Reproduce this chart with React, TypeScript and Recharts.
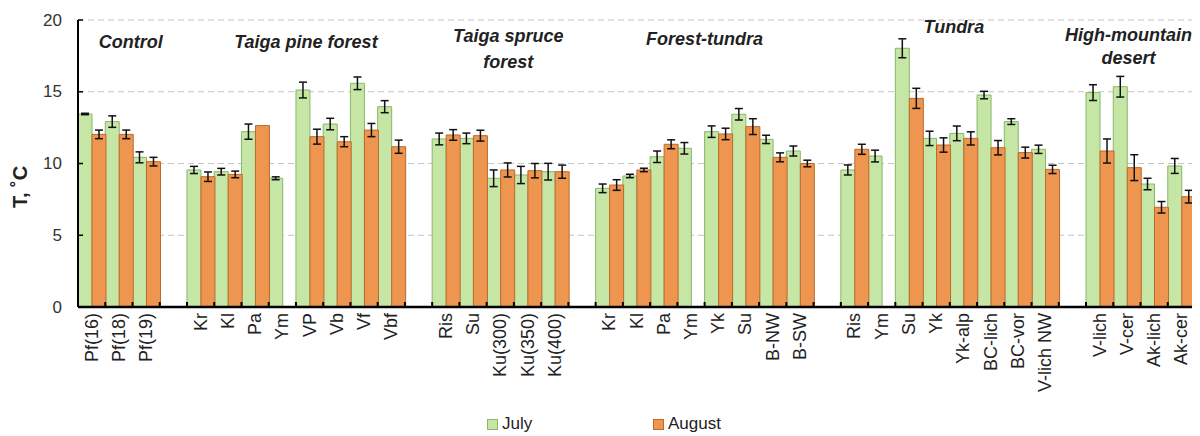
import React from 'react';
import { BarChart, Bar, XAxis, YAxis, CartesianGrid, ErrorBar, Legend, ReferenceArea } from 'recharts';

// ---------- data ----------
const siteLabels = [
  'Pf(16)', 'Pf(18)', 'Pf(19)', '',
  'Kr', 'Kl', 'Pa', 'Ym', 'VP', 'Vb', 'Vf', 'Vbf', '',
  'Ris', 'Su', 'Ku(300)', 'Ku(350)', 'Ku(400)', '',
  'Kr', 'Kl', 'Pa', 'Ym', 'Yk', 'Su', 'B-NW', 'B-SW', '',
  'Ris', 'Ym', 'Su', 'Yk', 'Yk-alp', 'BC-lich', 'BC-vor', 'V-lich NW', '',
  'V-lich', 'V-cer', 'Ak-lich', 'Ak-cer',
];

const julyT = [
  13.45, 12.92, 10.43, null,
  9.55, 9.43, 12.22, 8.97, 15.12, 12.75, 15.59, 13.96, null,
  11.71, 11.75, 8.97, 9.2, 9.43, null,
  8.27, 9.13, 10.47, 11.06, 12.22, 13.43, 11.68, 10.87, null,
  9.55, 10.52, 18.03, 11.75, 12.1, 14.77, 12.92, 10.99, null,
  14.94, 15.35, 8.57, 9.83,
];

const augustT = [
  12.03, 12.03, 10.13, null,
  9.08, 9.24, 12.64, null, 11.87, 11.52, 12.33, 11.17, null,
  11.99, 11.94, 9.55, 9.5, 9.43, null,
  8.5, 9.55, 11.34, null, 12.06, 12.57, 10.43, 10.0, null,
  10.99, null, 14.54, 11.29, 11.75, 11.1, 10.76, 9.59, null,
  10.87, 9.71, 6.95, 7.69,
];

const julyErr = [
  0.05, 0.4, 0.38, null,
  0.25, 0.23, 0.53, 0.1, 0.55, 0.4, 0.44, 0.42, null,
  0.41, 0.37, 0.58, 0.6, 0.58, null,
  0.3, 0.12, 0.4, 0.4, 0.4, 0.4, 0.29, 0.35, null,
  0.35, 0.41, 0.66, 0.5, 0.51, 0.26, 0.2, 0.29, null,
  0.55, 0.72, 0.4, 0.52,
];

const augustErr = [
  0.3, 0.3, 0.3, null,
  0.33, 0.23, null, null, 0.52, 0.35, 0.46, 0.46, null,
  0.37, 0.38, 0.49, 0.5, 0.46, null,
  0.37, 0.12, 0.31, null, 0.4, 0.55, 0.31, 0.23, null,
  0.35, null, 0.7, 0.5, 0.46, 0.5, 0.38, 0.29, null,
  0.84, 0.9, 0.4, 0.44,
];

const yTicks = [0, 5, 10, 15, 20];
const seriesNames = ['July', 'August'];
const yAxisTitle = 'T, ˚C';

const groupNames = [
  ['Control'],
  ['Taiga pine forest'],
  ['Taiga spruce', 'forest'],
  ['Forest-tundra'],
  ['Tundra'],
  ['High-mountain', 'desert'],
];
const groupStart = [0, 4, 13, 19, 28, 37];
const groupEnd = [2, 11, 17, 26, 35, 40];

// ---------- styling / layout ----------
const FONT = '"Liberation Sans", Arial, sans-serif';
const W = 1192;
const H = 428;
const MARGIN = { top: 12, right: 5, left: 0, bottom: 0 };
const Y_W = 70;
const X_H = 105;
const HALF_BAND = (W - MARGIN.left - MARGIN.right - Y_W) / siteLabels.length / 2;

const JULY_FILL = '#c6e6a6';
const JULY_STROKE = '#86b86a';
const AUG_FILL = '#ee9550';
const AUG_STROKE = '#bb6a2e';

const titleDx = [12, 10, 8, 0, 4, -12];
const titleY = [[34], [34], [28, 54], [31], [19], [27, 50]];
const legendLeft = [479, 645];

const data = siteLabels.map((label, i) => ({
  id: `s${i}`,
  label,
  july: julyT[i],
  august: augustT[i],
  julyErr: julyErr[i],
  augustErr: augustErr[i],
}));
const labelById: Record<string, string> = {};
data.forEach((d) => { labelById[d.id] = d.label; });

const XTick = (props: any) => {
  const { x, y, payload, index } = props;
  const label = labelById[payload.value] ?? '';
  const ty = y + 6;
  return (
    <g>
      <line x1={x - HALF_BAND} x2={x - HALF_BAND} y1={y} y2={y - 5} stroke="#000" strokeWidth={2} />
      {index === siteLabels.length - 1 && (
        <line x1={x + HALF_BAND} x2={x + HALF_BAND} y1={y} y2={y - 5} stroke="#000" strokeWidth={2} />
      )}
      <text
        x={x}
        y={ty}
        transform={`rotate(-90, ${x}, ${ty})`}
        textAnchor="end"
        dominantBaseline="central"
        fontSize={18}
        fontFamily={FONT}
        fill="#222"
      >
        {label}
      </text>
    </g>
  );
};

const YTick = (props: any) => {
  const { x, y, payload } = props;
  return (
    <g>
      <line x1={x} x2={x + 5} y1={y} y2={y} stroke="#000" strokeWidth={1.5} />
      <text x={x - 16} y={y} textAnchor="end" dominantBaseline="central" fontSize={17} fontFamily={FONT} fill="#333">
        {payload.value}
      </text>
    </g>
  );
};

const renderLegend = () => (
  <div style={{ position: 'relative', height: 24, fontFamily: FONT, fontSize: 17, color: '#222' }}>
    {seriesNames.map((n, i) => (
      <div
        key={n}
        style={{ position: 'absolute', left: legendLeft[i], top: 3, display: 'flex', alignItems: 'center', lineHeight: '18px' }}
      >
        <span
          style={{
            display: 'inline-block',
            width: 9,
            height: 9,
            background: i === 0 ? JULY_FILL : AUG_FILL,
            border: `1px solid ${i === 0 ? JULY_STROKE : AUG_STROKE}`,
            marginRight: 4,
          }}
        />
        {n}
      </div>
    ))}
  </div>
);

const makeTitle = (g: number) => (p: any) => {
  const vb = p.viewBox ?? p;
  const cx = vb.x + vb.width / 2 + titleDx[g];
  return (
    <g>
      {groupNames[g].map((line, k) => (
        <text
          key={k}
          x={cx}
          y={titleY[g][k]}
          textAnchor="middle"
          dominantBaseline="central"
          fontSize={18}
          fontWeight="bold"
          fontStyle="italic"
          fontFamily={FONT}
          fill="#222"
        >
          {line}
        </text>
      ))}
    </g>
  );
};

export default function App() {
  return (
    <BarChart width={W} height={H} data={data} margin={MARGIN} barCategoryGap={0} barGap={0}>
      <CartesianGrid vertical={false} stroke="#c4c4c4" strokeDasharray="6 4" />
      <XAxis
        dataKey="id"
        type="category"
        interval={0}
        height={X_H}
        tickSize={0}
        tickMargin={0}
        tickLine={false}
        axisLine={{ stroke: '#000', strokeWidth: 2.5 }}
        tick={<XTick />}
      />
      <YAxis
        domain={[0, 20]}
        ticks={yTicks}
        width={Y_W}
        tickSize={0}
        tickMargin={0}
        tickLine={false}
        axisLine={{ stroke: '#000', strokeWidth: 2 }}
        tick={<YTick />}
        label={(p: any) => {
          const vb = p.viewBox ?? { x: 0 };
          const lx = (vb.x ?? 0) + 12;
          const ly = 179;
          return (
            <text
              x={lx}
              y={ly}
              transform={`rotate(-90, ${lx}, ${ly})`}
              textAnchor="middle"
              dominantBaseline="central"
              fontSize={20}
              fontWeight="bold"
              fontFamily={FONT}
              fill="#222"
            >
              {yAxisTitle}
            </text>
          );
        }}
      />
      {groupNames.map((_, g) => (
        <ReferenceArea
          key={g}
          x1={`s${groupStart[g]}`}
          x2={`s${groupEnd[g]}`}
          fill="none"
          fillOpacity={0}
          stroke="none"
          ifOverflow="visible"
          label={makeTitle(g)}
        />
      ))}
      <Legend verticalAlign="bottom" content={renderLegend} />
      <Bar dataKey="july" name="July" fill={JULY_FILL} stroke={JULY_STROKE} strokeWidth={1} isAnimationActive={false}>
        <ErrorBar dataKey="julyErr" width={4} stroke="#111" strokeWidth={1.5} />
      </Bar>
      <Bar dataKey="august" name="August" fill={AUG_FILL} stroke={AUG_STROKE} strokeWidth={1} isAnimationActive={false}>
        <ErrorBar dataKey="augustErr" width={4} stroke="#111" strokeWidth={1.5} />
      </Bar>
    </BarChart>
  );
}
